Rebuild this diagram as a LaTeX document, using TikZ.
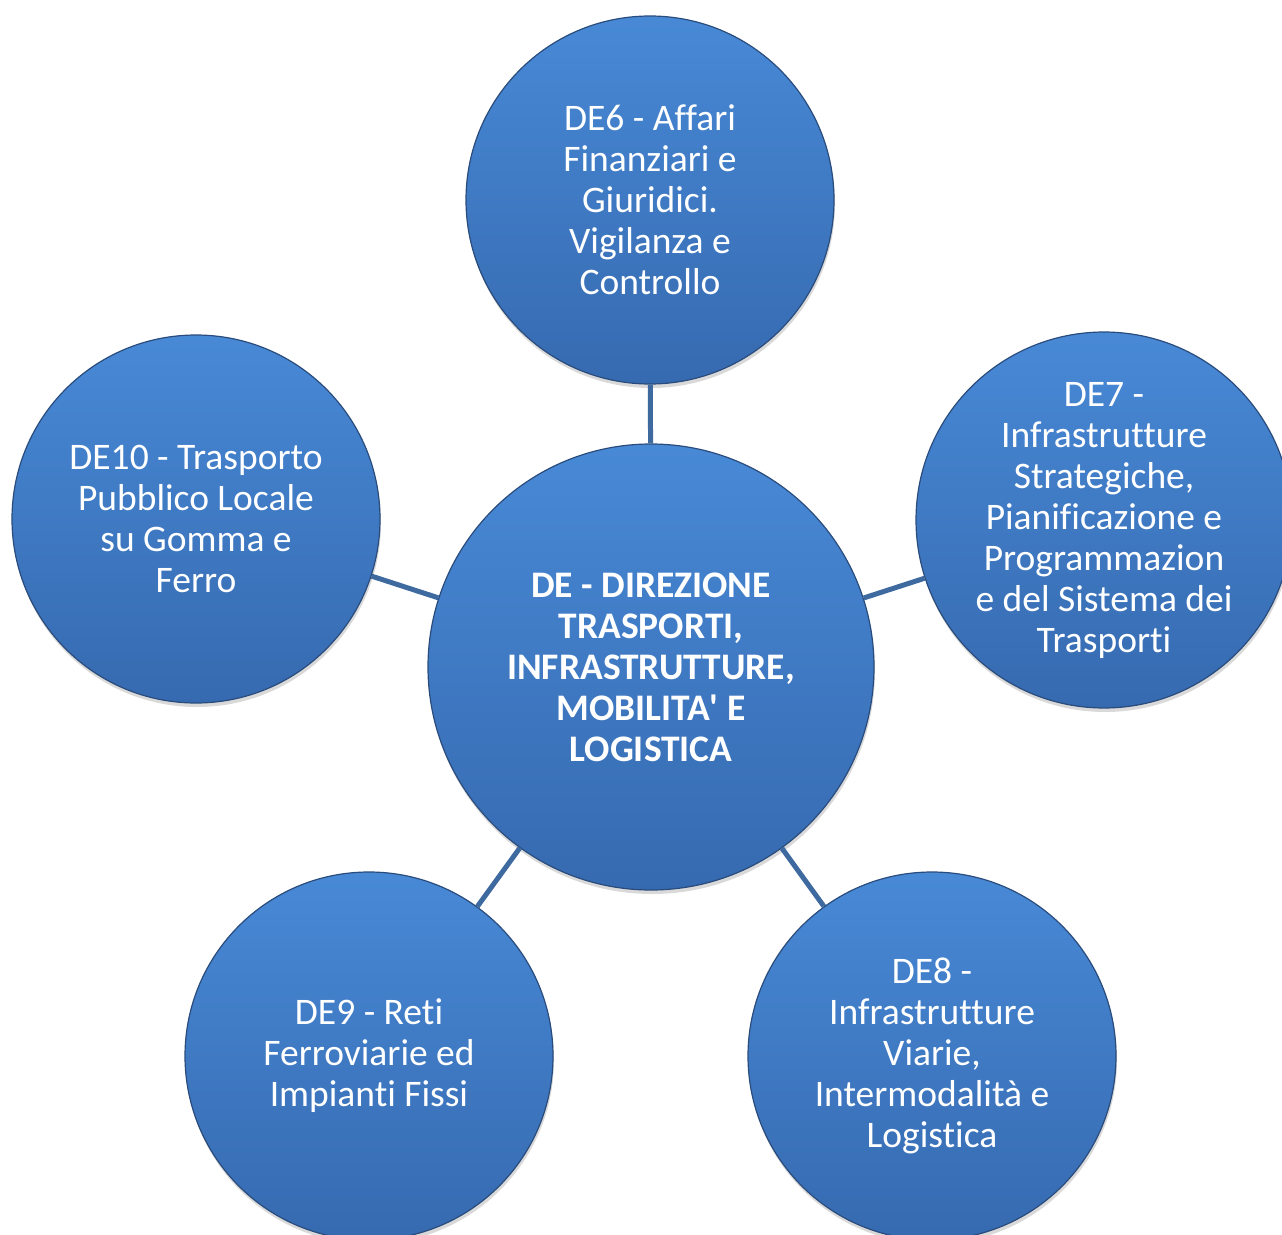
\documentclass[tikz,border=0pt]{standalone}
\usepackage{fontspec}
\setmainfont{Carlito}[Ligatures={NoCommon}]
\usetikzlibrary{shadows}
\definecolor{topblue}{RGB}{72,137,214}
\definecolor{botblue}{RGB}{54,106,176}
\definecolor{edgeblue}{RGB}{42,76,124}
\definecolor{linkblue}{RGB}{62,106,160}

\begin{document}
\begin{tikzpicture}[x=1pt,y=-1pt,
		unit/.style={circle, draw=edgeblue, line width=1.2pt,
			top color=topblue, bottom color=botblue,
			minimum size=368pt, inner sep=0pt, align=center, text=white,
			font=\fontsize{37.5}{41}\selectfont,
			drop shadow={shadow xshift=1pt,shadow yshift=-4pt,opacity=0.3}},
		link/.style={draw=linkblue, line width=5pt}]
		
		% we fix the size of the page
		\useasboundingbox (0,0) rectangle (1282,1234);
		
		% we draw the central circle
		\node[unit, minimum size=446pt, font=\bfseries\fontsize{37.5}{41}\selectfont] (de) at (651,667)
		{DE - DIREZIONE\\TRASPORTI,\\INFRASTRUTTURE,\\MOBILITA\textquotesingle{} E\\LOGISTICA};
		
		% we draw the circles round it
		\node[unit] (de6) at (650,200)
		{DE6 - Affari\\Finanziari e\\Giuridici.\\Vigilanza e\\Controllo};
		\node[unit] (de7) at (1104,520)
		{DE7 -\\Infrastrutture\\Strategiche,\\Pianificazione e\\Programmazion\\e del Sistema dei\\Trasporti};
		\node[unit] (de8) at (932,1056)
		{DE8 -\\Infrastrutture\\Viarie,\\Intermodalità e\\Logistica};
		\node[unit] (de9) at (369,1056)
		{DE9 - Reti\\Ferroviarie ed\\Impianti Fissi};
		\node[unit] (de10) at (196,519)
		{DE10 - Trasporto\\Pubblico Locale\\su Gomma e\\Ferro};
		
		% we draw the lines from the centre to the circles
		\foreach \k in {6,...,10}
		\path[link] (de) -- (de\k);
	\end{tikzpicture}
\end{document}
